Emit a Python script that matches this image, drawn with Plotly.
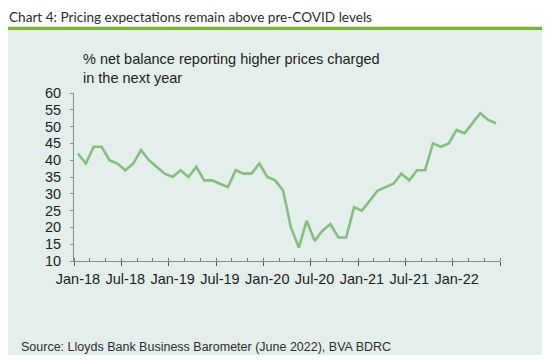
import plotly.graph_objects as go

# The page body adds an 8 px offset; size the figure to fill the rest of the window.
OFF = 8
W, H = 550 - OFF, 362 - OFF

months = [f"{m}-{y}" for y in ["18", "19", "20", "21", "22"]
          for m in ["Jan", "Feb", "Mar", "Apr", "May", "Jun", "Jul", "Aug", "Sep", "Oct", "Nov", "Dec"]][:54]
values = [42, 39, 44, 44, 40, 39, 37, 39, 43, 40, 38, 36,
          35, 37, 35, 38, 34, 34, 33, 32, 37, 36, 36, 39,
          35, 34, 31, 20, 14, 22, 16, 19, 21, 17, 17, 26,
          25, 28, 31, 32, 33, 36, 34, 37, 37, 45, 44, 45,
          49, 48, 51, 54, 52, 51]
tick_labels = ["Jan-18", "Jul-18", "Jan-19", "Jul-19", "Jan-20", "Jul-20", "Jan-21", "Jul-21", "Jan-22"]
y_ticks = list(range(10, 61, 5))

idx = list(range(len(months)))
label_pos = [months.index(t) for t in tick_labels]
major_bounds = [i - 0.5 for i in range(0, len(months) + 1, 6)]
minor_bounds = [i - 0.5 for i in range(0, len(months) + 1, 2)]

def px(x):
    return (x - OFF) / W

def py(y):
    return (H - (y - OFF)) / H

fig = go.Figure()
fig.add_trace(go.Scatter(x=idx, y=values, mode="lines",
                         line=dict(color="#84bf80", width=2.6),
                         hovertext=months, showlegend=False))
fig.add_trace(go.Scatter(x=[idx[0], idx[-1]], y=[None, None], xaxis="x2",
                         mode="lines", showlegend=False, hoverinfo="skip"))

axis_color = "#8a8a8a"
tick_font = dict(family="Liberation Sans, Arial, sans-serif", size=14.5, color="#1e1e1e")
xdom = [px(74), px(500)]
ydom = [py(261), py(93)]

fig.update_layout(
    width=W, height=H,
    autosize=False,
    showlegend=False,
    margin=dict(l=0, r=0, t=0, b=0, pad=0, autoexpand=False),
    paper_bgcolor="white",
    plot_bgcolor="rgba(0,0,0,0)",
    xaxis=dict(domain=xdom, range=[-0.5, len(months) - 0.5], tickvals=label_pos,
               ticktext=tick_labels, ticks="", showgrid=False, zeroline=False,
               showline=True, linecolor=axis_color, linewidth=1, automargin=False,
               tickfont=tick_font, ticklabelstandoff=5),
    xaxis2=dict(domain=xdom, overlaying="x", anchor="y", matches="x",
                range=[-0.5, len(months) - 0.5], tickvals=major_bounds,
                showticklabels=False, ticks="outside", ticklen=4, tickcolor="#555555",
                tickwidth=1, showgrid=False, zeroline=False, showline=False, automargin=False,
                minor=dict(tickvals=minor_bounds, ticks="inside", ticklen=3,
                           tickcolor="#777777", tickwidth=1, showgrid=False)),
    yaxis=dict(domain=ydom, range=[10, 60], tickvals=y_ticks, ticks="outside",
               ticklen=3, tickcolor=axis_color, showgrid=False, zeroline=False,
               showline=True, linecolor=axis_color, linewidth=1, automargin=False,
               tickfont=tick_font, ticklabelstandoff=6),
    shapes=[
        dict(type="rect", xref="paper", yref="paper", x0=px(8), x1=px(550),
             y0=py(355), y1=py(30), fillcolor="#e4eeea", line=dict(width=0), layer="below"),
        dict(type="rect", xref="paper", yref="paper", x0=px(8), x1=px(550),
             y0=py(30), y1=py(26.8), fillcolor="#7cb530", line=dict(width=0), layer="below"),
    ],
    annotations=[
        dict(text="Chart 4: Pricing expectations remain above pre-COVID levels",
             xref="paper", yref="paper", x=px(8), y=1, xanchor="left", yanchor="top",
             borderpad=0, showarrow=False,
             font=dict(family="Lato, sans-serif", size=13.6, color="#2b2b2b")),
        dict(text="% net balance reporting higher prices charged<br>in the next year",
             xref="paper", yref="paper", x=px(81), y=py(68), xanchor="left", yanchor="middle",
             align="left", showarrow=False,
             font=dict(family="Liberation Sans, Arial, sans-serif", size=14.5, color="#1e1e1e")),
        dict(text="Source: Lloyds Bank Business Barometer (June 2022), BVA BDRC",
             xref="paper", yref="paper", x=px(19), y=py(347), xanchor="left", yanchor="middle",
             showarrow=False,
             font=dict(family="Liberation Sans, Arial, sans-serif", size=12.5, color="#2e2e2e")),
    ],
)

fig.write_html("out.html")
